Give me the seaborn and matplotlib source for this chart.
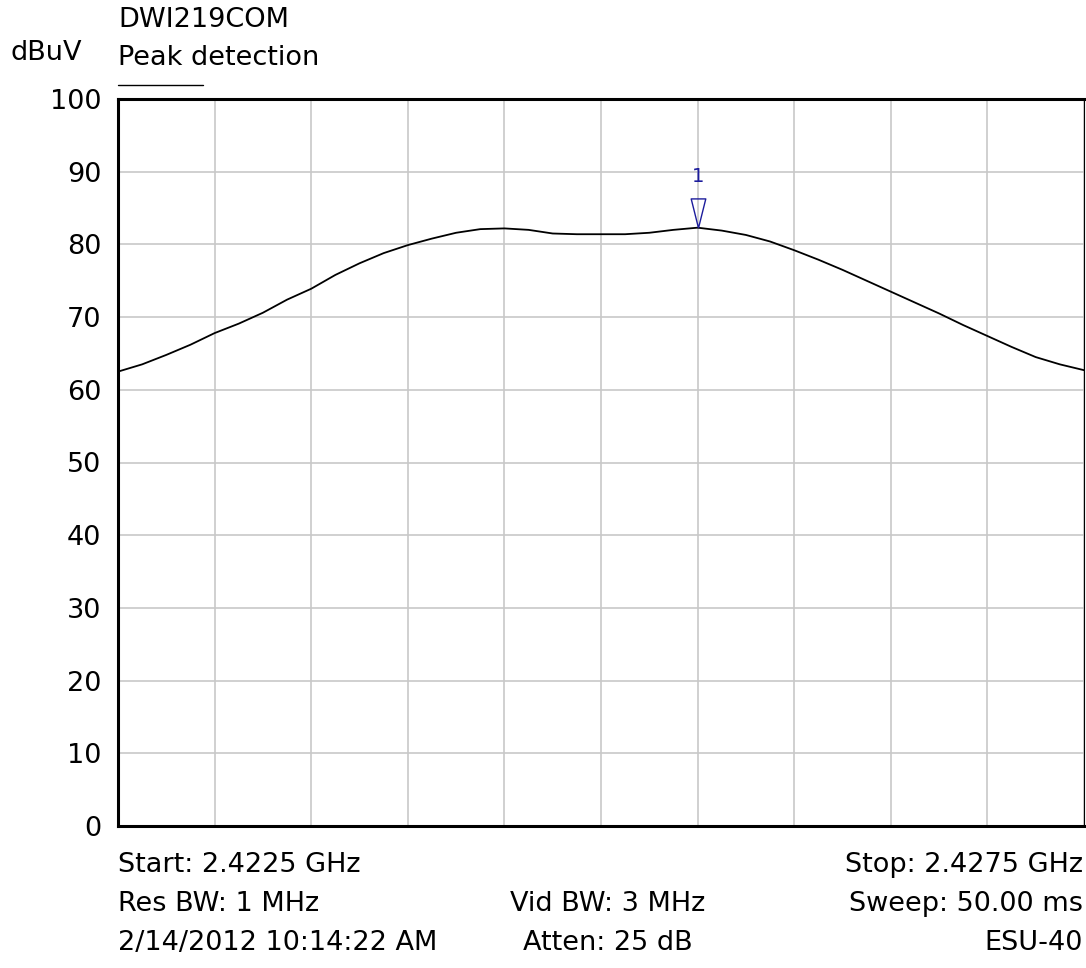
import numpy as np
import pandas as pd
import seaborn as sns
import matplotlib.pyplot as plt
import matplotlib.transforms as mtransforms

# Sweep frequency points (GHz), one every quarter division
freq_ghz = [2.422500, 2.422625, 2.422750, 2.422875, 2.423000, 2.423125, 2.423250,
            2.423375, 2.423500, 2.423625, 2.423750, 2.423875, 2.424000, 2.424125,
            2.424250, 2.424375, 2.424500, 2.424625, 2.424750, 2.424875, 2.425000,
            2.425125, 2.425250, 2.425375, 2.425500, 2.425625, 2.425750, 2.425875,
            2.426000, 2.426125, 2.426250, 2.426375, 2.426500, 2.426625, 2.426750,
            2.426875, 2.427000, 2.427125, 2.427250, 2.427375, 2.427500]

# Peak detector level (dBuV)
level_dbuv = [62.5, 63.5, 64.8, 66.2, 67.8, 69.1, 70.6, 72.4, 73.9, 75.8, 77.4,
              78.8, 79.9, 80.8, 81.6, 82.1, 82.2, 82.0, 81.5, 81.4, 81.4, 81.4,
              81.6, 82.0, 82.3, 81.9, 81.3, 80.4, 79.2, 77.9, 76.5, 75.0, 73.5,
              72.0, 70.5, 68.9, 67.4, 65.9, 64.5, 63.5, 62.7]

y_ticks = [0, 10, 20, 30, 40, 50, 60, 70, 80, 90, 100]

header_lines = ["DWI219COM", "Peak detection"]
footer_left = ["Start: 2.4225 GHz", "Res BW: 1 MHz", "2/14/2012 10:14:22 AM"]
footer_mid = ["", "Vid BW: 3 MHz", "Atten: 25 dB"]
footer_right = ["Stop: 2.4275 GHz", "Sweep: 50.00 ms", "ESU-40"]

sweep = pd.DataFrame({"freq": freq_ghz, "level": level_dbuv})

sns.set_theme(style="white")
plt.rcParams['font.family'] = ['DejaVu Sans']
plt.rcParams['text.color'] = 'black'
plt.rcParams['ytick.color'] = 'black'

FS = 19.5
W, H = 1086, 968

fig = plt.figure(figsize=(10.86, 9.68), dpi=100)
ax = fig.add_axes([118 / W, 1 - 826 / H, 966 / W, 727 / H])

sns.lineplot(data=sweep, x="freq", y="level", color="black", linewidth=1.3, ax=ax)

# 10 divisions across the span
f0, f1 = freq_ghz[0], freq_ghz[-1]
ax.set_xlim(f0, f1)
ax.set_xticks(np.linspace(f0, f1, 11))
ax.set_xticklabels([])
ax.set_ylim(0, 100)
ax.set_yticks(y_ticks)
ax.set_yticklabels([str(t) for t in y_ticks], fontsize=FS, color="black")
ax.tick_params(axis="both", length=0, pad=12)
ax.set_xlabel("")
ax.set_ylabel("")
ax.grid(True, color="#c8c8c8", linewidth=1.2)

for side in ["left", "top", "bottom"]:
    ax.spines[side].set_color("black")
    ax.spines[side].set_linewidth(2.2)
ax.spines["right"].set_color("black")
ax.spines["right"].set_linewidth(0.8)

# Marker 1 on the peak
pk = int(np.argmax(level_dbuv))
tri = [(0, -1), (-0.5, 1), (0.5, 1), (0, -1)]
shifted = mtransforms.offset_copy(ax.transData, fig=fig, x=0, y=14.5, units="dots")
ax.plot([freq_ghz[pk]], [level_dbuv[pk]], marker=tri, markersize=21,
        markerfacecolor="none", markeredgecolor="#1c1c9c", markeredgewidth=1.0,
        transform=shifted, clip_on=False)
ax.annotate("1", xy=(freq_ghz[pk], level_dbuv[pk]), xytext=(0, 46),
            textcoords="offset pixels", ha="center", va="baseline",
            fontsize=14, color="#1c1c9c")

# Header
fig.text(118 / W, 1 - 27 / H, header_lines[0], fontsize=FS, ha="left", va="baseline")
fig.text(118 / W, 1 - 65 / H, header_lines[1], fontsize=FS, ha="left", va="baseline")
fig.text(10 / W, 1 - 60 / H, "dBuV", fontsize=FS, ha="left", va="baseline")
fig.add_artist(plt.Line2D([118 / W, 203 / W], [1 - 85 / H, 1 - 85 / H],
                          color="black", linewidth=1.0))

# Footer with sweep settings
rows_y = [872, 911, 950]
for i, yy in enumerate(rows_y):
    fy = 1 - yy / H
    fig.text(118 / W, fy, footer_left[i], fontsize=FS, ha="left", va="baseline")
    if footer_mid[i]:
        fig.text(608 / W, fy, footer_mid[i], fontsize=FS, ha="center", va="baseline")
    fig.text(1083 / W, fy, footer_right[i], fontsize=FS, ha="right", va="baseline")

fig.savefig("out.png", dpi=100, facecolor="white")
